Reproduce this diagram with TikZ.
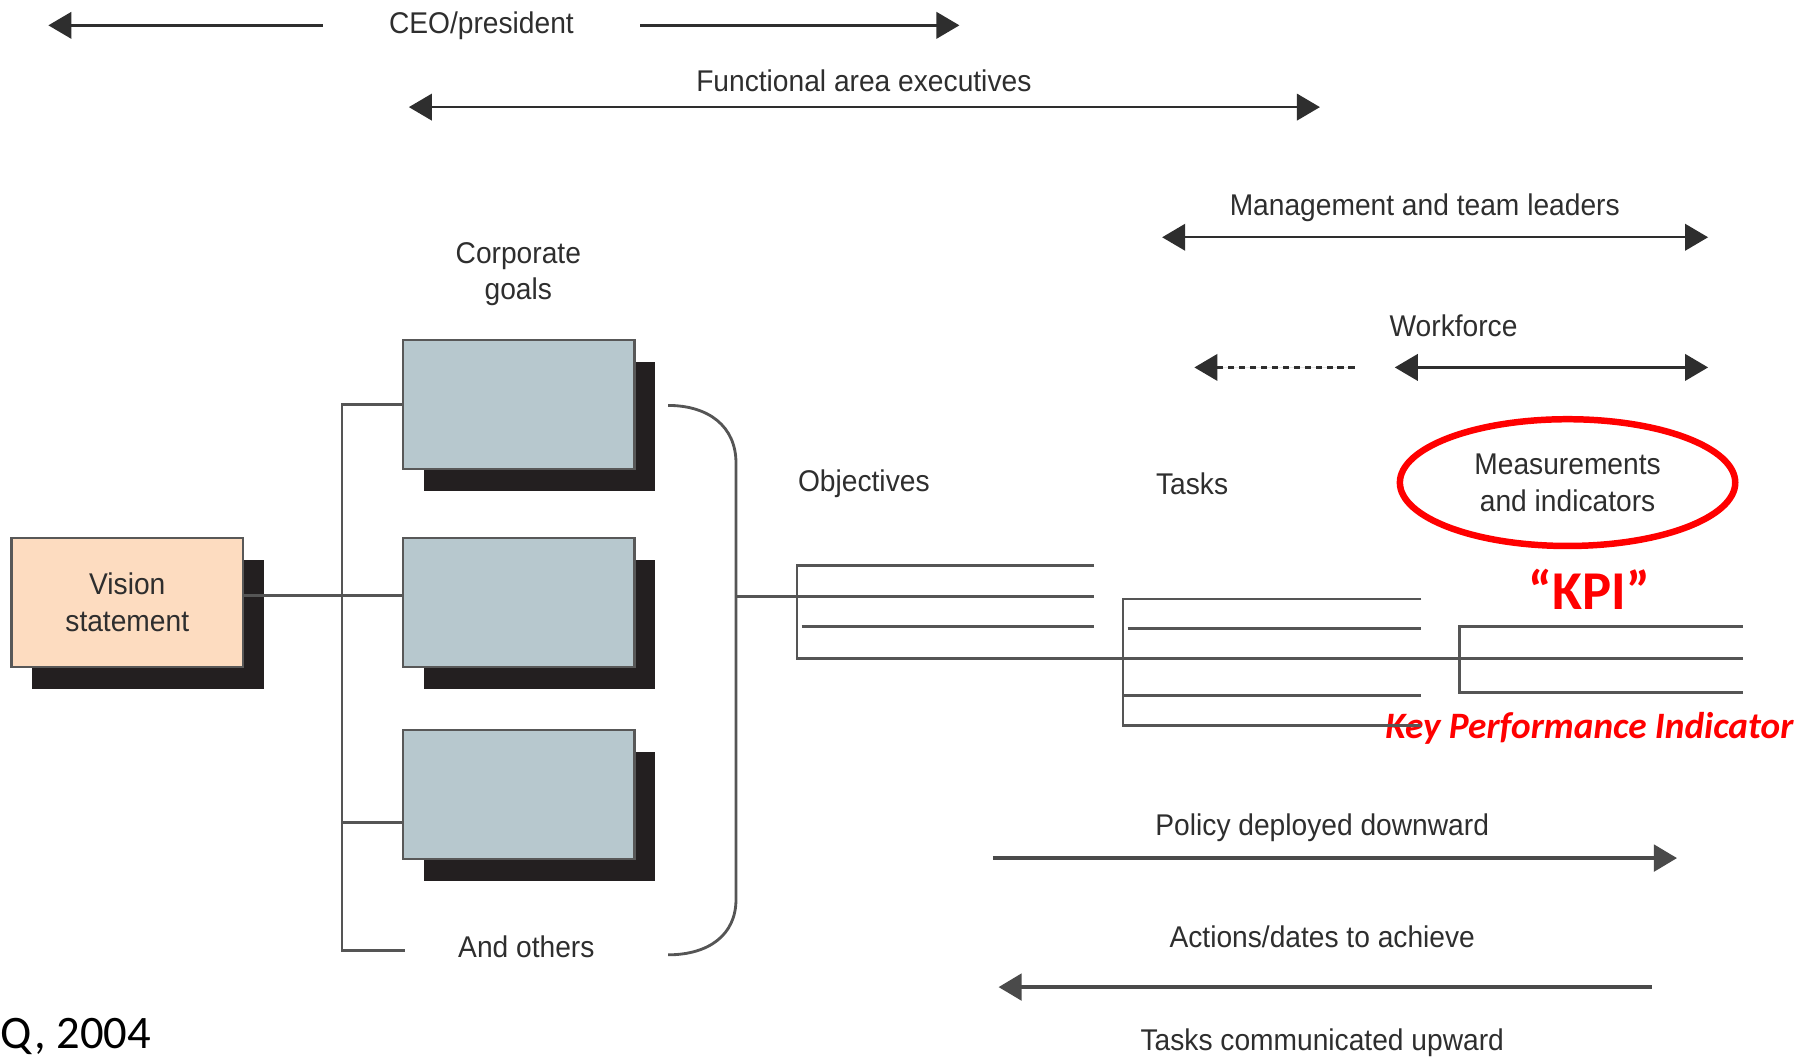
\documentclass[tikz,border=0pt]{standalone}
\usepackage{fontspec}
\usepackage{xcolor}
\usepackage{tikz}
\usetikzlibrary{arrows.meta, positioning, shapes.geometric, shadows}
\newfontfamily\labelfont{Liberation Sans}[FakeStretch=0.94]
\newfontfamily\notefont{Carlito}
\definecolor{inkgray}{HTML}{2E2E2E}
\definecolor{linegray}{HTML}{555555}
\definecolor{flowgray}{HTML}{4A4A4A}
\definecolor{goalfill}{HTML}{B7C8CE}
\definecolor{visionfill}{HTML}{FDDCC0}
\definecolor{shadowblack}{HTML}{231F20}
\definecolor{kpired}{HTML}{FF0000}
\tikzset{
    lbl/.style={
        font=\labelfont\fontsize{7.4}{9.1}\selectfont, text=inkgray,
        align=center, inner sep=0pt
    },
    goalbox/.style={
        rectangle, draw=inkgray!80, fill=#1,
        minimum width=2.01cm, minimum height=1.12cm, line width=0.6pt,
        drop shadow={shadow xshift=0.18cm, shadow yshift=-0.19cm,
            fill=shadowblack, opacity=1}
    },
    goalbox/.default=goalfill,
    tierarrow/.style={line width=0.6pt, draw=inkgray, fill=inkgray},
    flowarrow/.style={line width=0.9pt, draw=flowgray, fill=flowgray},
    treeline/.style={line width=0.7pt, draw=linegray},
    kpiring/.style={
        ellipse, draw=kpired, line width=1.6pt,
        minimum width=2.91cm, minimum height=1.10cm
    },
    kpitext/.style={
        font=\notefont\bfseries\fontsize{13.5}{15}\selectfont, text=kpired, inner sep=0pt
    },
    kpinote/.style={
        font=\notefont\bfseries\itshape\fontsize{9.2}{11}\selectfont, text=kpired, inner sep=0pt
    },
}

\begin{document}
\begin{tikzpicture}[x=0.01cm, y=-0.01cm, >={Triangle[length=0.2cm, width=0.23cm]}]
    \useasboundingbox (0,0) rectangle (1568,921);

    % who is responsible
    \node[lbl, inner xsep=0.57cm] (ceo) at (418,22) {CEO/president};
    \coordinate (ceoL) at (42,22);
    \coordinate (ceoR) at (833,22);
    \draw[tierarrow, ->] (ceo.west) -- (ceoL);
    \draw[tierarrow, ->] (ceo.east) -- (ceoR);

    \node[lbl] (fae) at (750,70) {Functional area executives};
    \coordinate (faeL) at (355,93);
    \coordinate (faeR) at (1146,93);
    \draw[tierarrow, <->] (faeL) -- (faeR);

    \node[lbl] (mgmt) at (1237,180) {Management and team leaders};
    \coordinate (mgmtL) at (1009,206);
    \coordinate (mgmtR) at (1483,206);
    \draw[tierarrow, <->] (mgmtL) -- (mgmtR);

    \node[lbl] (work) at (1262,283) {Workforce};
    \coordinate (workL) at (1037,319);
    \coordinate (workM) at (1176,319);
    \coordinate (workS) at (1211,319);
    \coordinate (workR) at (1483,319);
    \draw[tierarrow, ->, dash pattern=on 1.5pt off 1.2pt] (workM) -- (workL);
    \draw[tierarrow, <->] (workS) -- (workR);

    % vision and goals
    \node[lbl] (goalslbl) at (450,238) {Corporate\\goals};
    \node[goalbox] (goal1) at (450.5,351) {};
    \node[goalbox] (goal2) at (450.5,523) {};
    \node[goalbox] (goal3) at (450.5,690) {};
    \node[goalbox=visionfill, lbl] (vision) at (110.5,523) {Vision\\statement};
    \node[lbl] (others) at (457,822) {And others};

    \coordinate (brkbot) at (297,825);
    \coordinate (othersend) at (352,825);
    \draw[treeline] (goal1.west) -| (brkbot) -- (othersend);
    \draw[treeline] ([yshift=-0.24cm]goal3.west) -- ++(-53,0);
    \draw[treeline] ([yshift=0.06cm]vision.east) -- ([yshift=0.06cm]goal2.west);

    \coordinate (rbtop) at (580,352);
    \coordinate (rbbot) at (580,829);
    \coordinate (rbmid) at (639,518);
    \draw[treeline] (rbtop) .. controls (615,352) and (639,370) .. (639,402)
        -- (639,781) .. controls (639,812) and (615,829) .. (rbbot);

    % objectives, tasks, measures
    \node[lbl] (objlbl) at (750,420) {Objectives};
    \node[lbl] (tasklbl) at (1035,420) {Tasks};
    \node[kpiring, lbl] (meas) at (1361,419) {Measurements\\and indicators};
    \node[kpitext] (kpi) at (1380,512) {“KPI”};
    \node[kpinote] (kpifull) at (1380,632) {Key Performance Indicator};

    \draw[treeline] (rbmid) -- (950,518);
    \draw[treeline] (950,491) -- (692,491) -- (692,572) -- (1513,572);
    \draw[treeline] (696,544) -- (950,544);
    \draw[treeline] (1234,520) -- (975,520) -- (975,630) -- (1234,630);
    \foreach \y/\xa in {546/979, 604/975}
        \draw[treeline] (\xa,\y) -- (1234,\y);
    \draw[treeline] (1513,544) -- (1267,544) -- (1267,601) -- (1513,601);

    % flow of policy
    \node[lbl] (policy) at (1148,719) {Policy deployed downward};
    \coordinate (polL) at (862,745);
    \coordinate (polR) at (1456,745);
    \draw[flowarrow, ->] (polL) -- (polR);

    \node[lbl] (actions) at (1148,813) {Actions/dates to achieve};
    \coordinate (actR) at (1434,857);
    \coordinate (actL) at (867,857);
    \draw[flowarrow, ->] (actR) -- (actL);

    \node[lbl] (upward) at (1148,905) {Tasks communicated upward};

    \node[font=\notefont\fontsize{11.5}{14}\selectfont, anchor=west, inner sep=0pt] (source) at (0,900) {Q, 2004};
\end{tikzpicture}
\end{document}
